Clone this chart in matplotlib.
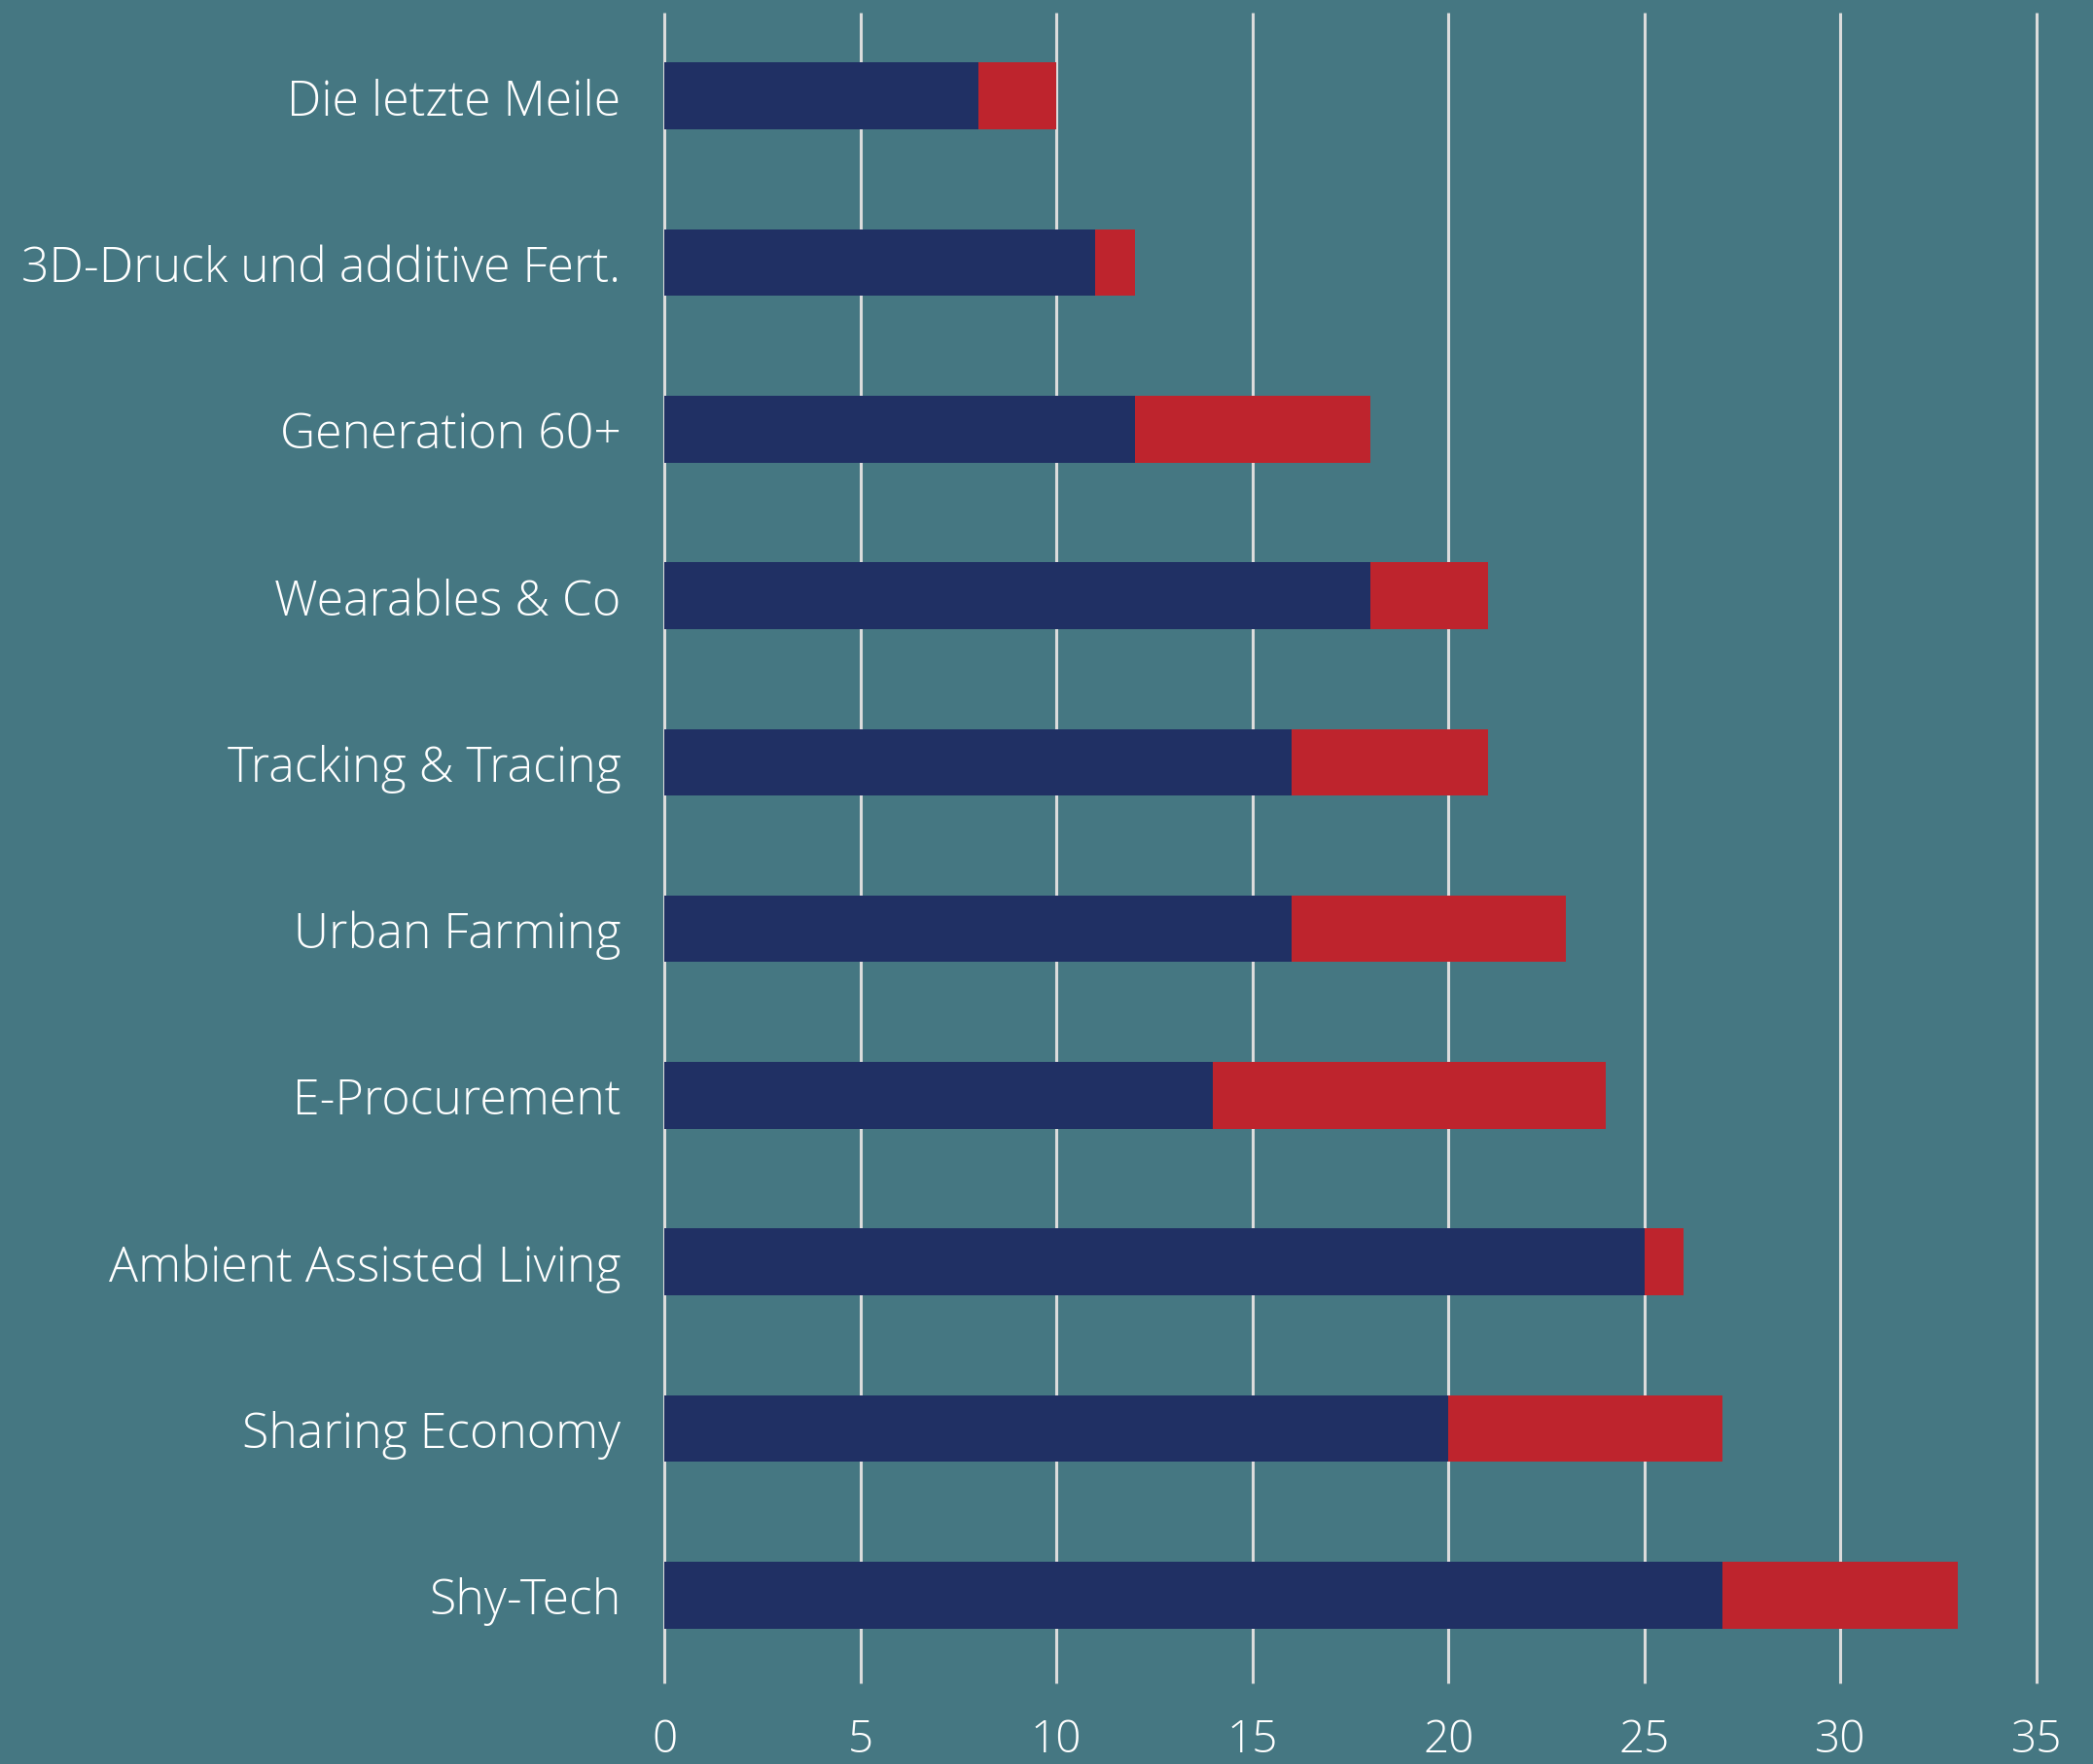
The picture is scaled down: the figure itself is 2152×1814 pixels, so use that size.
import matplotlib
matplotlib.use("Agg")
import matplotlib.pyplot as plt
import numpy as np

categories = ["Die letzte Meile", "3D-Druck und additive Fert.", "Generation 60+",
              "Wearables & Co", "Tracking & Tracing", "Urban Farming", "E-Procurement",
              "Ambient Assisted Living", "Sharing Economy", "Shy-Tech"]
series_a = [8, 11, 12, 18, 16, 16, 14, 25, 20, 27]
series_b = [2, 1, 6, 3, 5, 7, 10, 1, 7, 6]
x_ticks = [0, 5, 10, 15, 20, 25, 30, 35]

BG = "#457782"
NAVY = "#203064"
RED = "#BE242D"
GRID = "#DCDCDC"

plt.rcParams['font.family'] = ['Open Sans', 'DejaVu Sans']

fig = plt.figure(figsize=(21.52, 18.15), dpi=100, facecolor=BG)
ax = fig.add_axes([683/2152, 1 - 1727/1815, (2094 - 683)/2152, 1713/1815])
ax.set_facecolor(BG)

y = np.arange(len(categories))
ax.set_xlim(0, 35)
ax.set_ylim(len(categories) - 0.5, -0.5)

for t in x_ticks:
    ax.plot([t, t], [len(categories) - 0.5 + 0.03, -0.5], color=GRID, lw=2.2,
            zorder=1, clip_on=False, solid_capstyle='butt')

ax.barh(y, series_a, height=0.4, color=NAVY, zorder=2)
ax.barh(y, series_b, left=series_a, height=0.4, color=RED, zorder=2)

ax.set_yticks(y)
ax.set_yticklabels(categories, fontsize=36, color="white", fontweight="light")
ax.set_xticks(x_ticks)
ax.set_xticklabels([str(t) for t in x_ticks], fontsize=33, color="white", fontweight="light")
ax.tick_params(axis='y', length=0, pad=32)
ax.tick_params(axis='x', length=0, pad=29)
for s in ax.spines.values():
    s.set_visible(False)

fig.savefig("out.png", dpi=100, facecolor=BG)
